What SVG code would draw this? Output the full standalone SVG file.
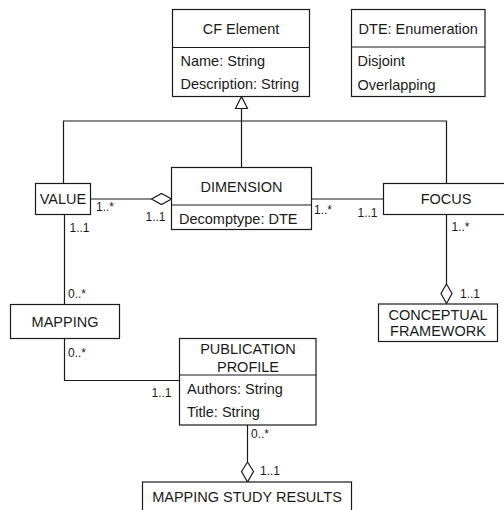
<svg xmlns="http://www.w3.org/2000/svg" width="504" height="510" viewBox="0 0 504 510">
  <style>
    .box { fill: #ffffff; stroke: #1a1a1a; stroke-width: 1.2; }
    .div { stroke: #1a1a1a; stroke-width: 1.2; fill: none; }
    .edge { stroke: #1a1a1a; stroke-width: 1.2; fill: none; }
    .head { fill: #ffffff; stroke: #1a1a1a; stroke-width: 1.2; }
    text { font-family: "Liberation Sans", Arial, sans-serif; fill: #1a1a1a; }
    .t { font-size: 14.5px; }
    .c { text-anchor: middle; }
    .m { font-size: 12px; }
  </style>
  <rect width="504" height="510" fill="#ffffff"/>

  <!-- connectors -->
  <g id="connectors">
    <!-- generalisation to CF Element -->
    <polyline class="edge" points="63.5,183.5 63.5,121 446.5,121 446.5,183.5"/>
    <line class="edge" x1="241.5" y1="108.5" x2="241.5" y2="167.5"/>
    <polygon class="head" points="241.5,96.5 247.5,108.5 235.5,108.5"/>
    <!-- VALUE - DIMENSION aggregation -->
    <line class="edge" x1="90.5" y1="199" x2="151.5" y2="199"/>
    <polygon class="head" points="151.5,199 161.5,193.5 171.5,199 161.5,204.5"/>
    <text class="m" x="96" y="211">1..*</text>
    <text class="m" x="145.5" y="221">1..1</text>
    <!-- DIMENSION - FOCUS -->
    <line class="edge" x1="311.5" y1="199" x2="383.5" y2="199"/>
    <text class="m" x="314" y="213.5">1..*</text>
    <text class="m" x="357.5" y="216.5">1..1</text>
    <!-- VALUE - MAPPING -->
    <line class="edge" x1="64.5" y1="214.5" x2="64.5" y2="304.5"/>
    <text class="m" x="69.5" y="231.5">1..1</text>
    <text class="m" x="68" y="297.5">0..*</text>
    <!-- MAPPING - PUBLICATION PROFILE -->
    <polyline class="edge" points="64.5,338.5 64.5,380.5 179.5,380.5"/>
    <text class="m" x="68" y="356.5">0..*</text>
    <text class="m" x="151.5" y="396.5">1..1</text>
    <!-- FOCUS - CONCEPTUAL FRAMEWORK aggregation -->
    <line class="edge" x1="446.5" y1="214.5" x2="446.5" y2="284"/>
    <polygon class="head" points="446.5,284 452,293.5 446.5,303.5 441,293.5"/>
    <text class="m" x="451.5" y="230.5">1..*</text>
    <text class="m" x="460" y="297.5">1..1</text>
    <!-- PUBLICATION PROFILE - MAPPING STUDY RESULTS aggregation -->
    <line class="edge" x1="247.5" y1="425" x2="247.5" y2="462"/>
    <polygon class="head" points="247.5,462 253.5,471.5 247.5,482 241.5,471.5"/>
    <text class="m" x="251" y="438">0..*</text>
    <text class="m" x="260" y="475">1..1</text>
  </g>

  <g id="cf-element">
    <rect class="box" x="172.5" y="9.5" width="137" height="87"/>
    <line class="div" x1="172.5" y1="47.5" x2="309.5" y2="47.5"/>
    <text class="t c" x="241" y="33.5">CF Element</text>
    <text class="t" x="180.5" y="66">Name: String</text>
    <text class="t" x="180.5" y="89">Description: String</text>
  </g>

  <g id="dte-enumeration">
    <rect class="box" x="351.5" y="9.5" width="133.5" height="87"/>
    <line class="div" x1="351.5" y1="47" x2="485" y2="47"/>
    <text class="t c" x="418.2" y="33.5">DTE: Enumeration</text>
    <text class="t" x="357.5" y="65.5">Disjoint</text>
    <text class="t" x="357.5" y="90">Overlapping</text>
  </g>

  <g id="value">
    <rect class="box" x="35.5" y="183.5" width="55" height="31"/>
    <text class="t c" x="63" y="204.2">VALUE</text>
  </g>

  <g id="dimension">
    <rect class="box" x="171.5" y="167.5" width="140" height="62"/>
    <line class="div" x1="171.5" y1="205" x2="311.5" y2="205"/>
    <text class="t c" x="241.5" y="191.5">DIMENSION</text>
    <text class="t" x="179" y="223.5">Decomptype: DTE</text>
  </g>

  <g id="focus">
    <rect class="box" x="383.5" y="183.5" width="126" height="31"/>
    <text class="t c" x="446" y="204.2">FOCUS</text>
  </g>

  <g id="mapping">
    <rect class="box" x="10.5" y="304.5" width="109" height="34"/>
    <text class="t c" x="65" y="327">MAPPING</text>
  </g>

  <g id="conceptual-framework">
    <rect class="box" x="378.5" y="304" width="119" height="37.5"/>
    <text class="t c" x="438" y="319.5">CONCEPTUAL</text>
    <text class="t c" x="438" y="336">FRAMEWORK</text>
  </g>

  <g id="publication-profile">
    <rect class="box" x="179.5" y="338.5" width="136.5" height="86.5"/>
    <line class="div" x1="179.5" y1="375" x2="316" y2="375"/>
    <text class="t c" x="248" y="354">PUBLICATION</text>
    <text class="t c" x="248" y="371.5">PROFILE</text>
    <text class="t" x="187" y="394">Authors: String</text>
    <text class="t" x="187" y="417">Title: String</text>
  </g>

  <g id="mapping-study-results">
    <rect class="box" x="142.5" y="482" width="209" height="40"/>
    <text class="t c" x="247" y="502">MAPPING STUDY RESULTS</text>
  </g>
</svg>
